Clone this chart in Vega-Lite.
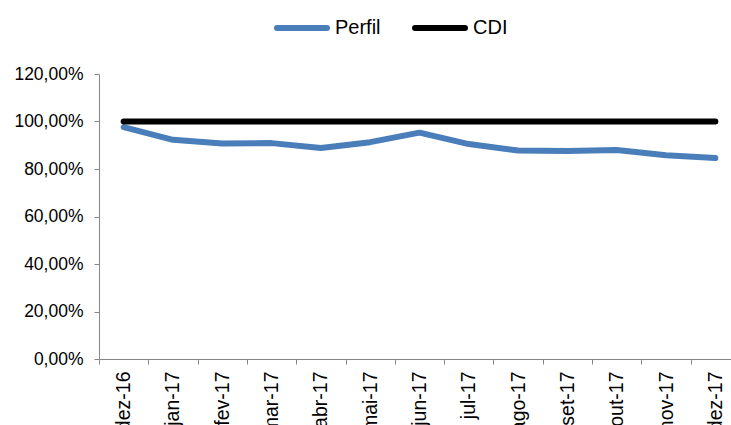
{
  "$schema": "https://vega.github.io/schema/vega-lite/v6.json",
  "autosize": {"type": "none"},
  "padding": {"left": 99, "top": 74, "right": -9, "bottom": 66},
  "width": 641,
  "height": 285,
  "background": "white",
  "config": {
    "view": {"stroke": null},
    "font": "Liberation Sans",
    "axis": {
      "labelFont": "Liberation Sans",
      "labelFontSize": 17.5,
      "labelColor": "#000000",
      "domainColor": "#868686",
      "tickColor": "#868686",
      "grid": false,
      "title": null
    }
  },
  "data": {
    "values": [
      {"mes": "dez-16", "serie": "Perfil", "valor": 97.6},
      {"mes": "jan-17", "serie": "Perfil", "valor": 92.3},
      {"mes": "fev-17", "serie": "Perfil", "valor": 90.7},
      {"mes": "mar-17", "serie": "Perfil", "valor": 90.9},
      {"mes": "abr-17", "serie": "Perfil", "valor": 88.8},
      {"mes": "mai-17", "serie": "Perfil", "valor": 91.3},
      {"mes": "jun-17", "serie": "Perfil", "valor": 95.3},
      {"mes": "jul-17", "serie": "Perfil", "valor": 90.5},
      {"mes": "ago-17", "serie": "Perfil", "valor": 87.8},
      {"mes": "set-17", "serie": "Perfil", "valor": 87.6},
      {"mes": "out-17", "serie": "Perfil", "valor": 88.0},
      {"mes": "nov-17", "serie": "Perfil", "valor": 85.8},
      {"mes": "dez-17", "serie": "Perfil", "valor": 84.6},
      {"mes": "dez-16", "serie": "CDI", "valor": 100},
      {"mes": "jan-17", "serie": "CDI", "valor": 100},
      {"mes": "fev-17", "serie": "CDI", "valor": 100},
      {"mes": "mar-17", "serie": "CDI", "valor": 100},
      {"mes": "abr-17", "serie": "CDI", "valor": 100},
      {"mes": "mai-17", "serie": "CDI", "valor": 100},
      {"mes": "jun-17", "serie": "CDI", "valor": 100},
      {"mes": "jul-17", "serie": "CDI", "valor": 100},
      {"mes": "ago-17", "serie": "CDI", "valor": 100},
      {"mes": "set-17", "serie": "CDI", "valor": 100},
      {"mes": "out-17", "serie": "CDI", "valor": 100},
      {"mes": "nov-17", "serie": "CDI", "valor": 100},
      {"mes": "dez-17", "serie": "CDI", "valor": 100}
    ]
  },
  "mark": {"type": "line", "strokeWidth": 6, "strokeCap": "round", "strokeJoin": "round"},
  "encoding": {
    "x": {
      "field": "mes",
      "type": "ordinal",
      "sort": ["dez-16", "jan-17", "fev-17", "mar-17", "abr-17", "mai-17", "jun-17", "jul-17", "ago-17", "set-17", "out-17", "nov-17", "dez-17"],
      "scale": {"type": "band", "paddingInner": 0, "paddingOuter": 0},
      "axis": {
        "labelAngle": 270,
        "tickBand": "extent",
        "tickSize": 5,
        "labelPadding": 7,
        "labelFontSize": 19.5,
        "labelOverlap": false
      }
    },
    "y": {
      "field": "valor",
      "type": "quantitative",
      "scale": {"domain": [0, 120], "nice": false, "zero": true},
      "axis": {
        "values": [0, 20, 40, 60, 80, 100, 120],
        "tickSize": 5,
        "labelPadding": 11,
        "labelExpr": "replace(format(datum.value, '.2f'), '.', ',') + '%'"
      }
    },
    "color": {
      "field": "serie",
      "type": "nominal",
      "sort": ["Perfil", "CDI"],
      "scale": {"domain": ["Perfil", "CDI"], "range": ["#4A7EBB", "#000000"]},
      "legend": {
        "title": null,
        "orient": "none",
        "direction": "horizontal",
        "legendX": 175,
        "legendY": -74,
        "padding": 0,
        "symbolType": "stroke",
        "symbolSize": 2500,
        "symbolStrokeWidth": 6,
        "labelFont": "Liberation Sans",
        "labelFontSize": 20,
        "labelColor": "#000000",
        "labelOffset": 5,
        "columnPadding": 22,
        "encode": {"symbols": {"update": {"strokeCap": {"value": "round"}}}}
      }
    }
  }
}
